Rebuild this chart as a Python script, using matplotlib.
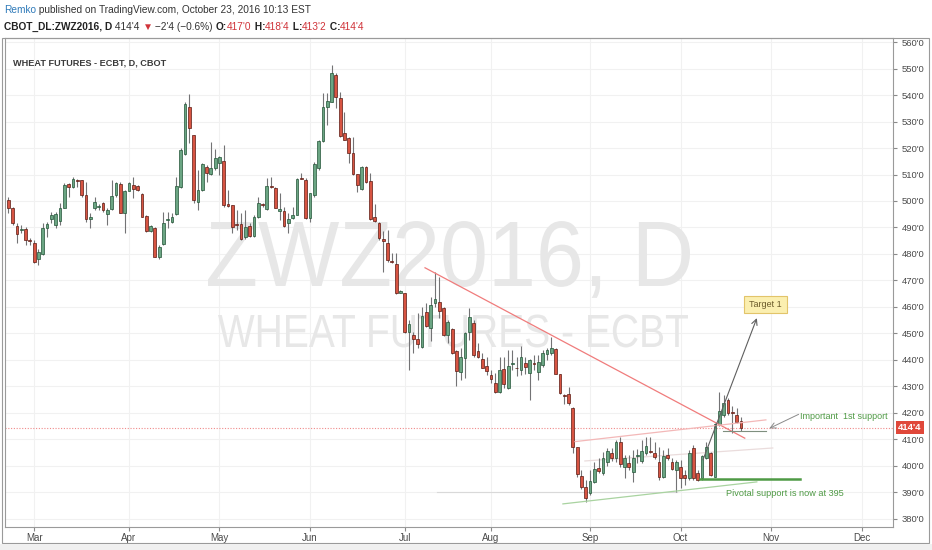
import matplotlib
matplotlib.use('Agg')
import matplotlib.pyplot as plt
import matplotlib.transforms as mtransforms
from matplotlib.textpath import TextPath
from matplotlib.patches import PathPatch, Rectangle
from matplotlib.font_manager import FontProperties
import numpy as np
import pandas as pd

# daily bars, 22 Feb 2016 .. 21 Oct 2016
opens = [500.4, 497.5, 490.7, 489.0, 489.3, 485.3, 484.0, 478.1, 479.9, 489.7,
         493.1, 490.9, 492.6, 497.5, 506.4, 505.1, 507.9, 507.9, 502.2, 493.3,
         497.2, 497.8, 499.4, 495.1, 496.8, 502.2, 506.4, 495.6, 503.9, 506.0,
         505.6, 502.5, 494.5, 488.8, 489.7, 479.0, 483.8, 492.8, 491.9, 495.1,
         505.1, 517.7, 535.3, 524.9, 499.7, 504.1, 512.9, 510.2, 512.3, 514.2,
         515.2, 498.9, 498.5, 491.5, 491.2, 486.5, 490.7, 486.9, 493.8, 498.9,
         496.8, 505.4, 505.0, 496.4, 496.2, 491.6, 493.7, 494.7, 508.5, 507.9,
         493.4, 502.2, 512.6, 522.8, 535.3, 537.5, 547.5, 538.7, 525.8, 523.6,
         518.0, 510.1, 504.5, 512.9, 507.7, 493.8, 491.8, 485.5, 484.3, 477.1,
         476.2, 465.2, 465.2, 450.7, 449.4, 447.8, 445.0, 458.2, 452.0, 461.6,
         462.0, 459.5, 449.4, 451.6, 443.5, 435.6, 440.6, 450.7, 453.8, 443.5,
         440.2, 437.7, 434.3, 431.4, 428.0, 436.7, 429.3, 438.5, 437.0, 436.2,
         438.7, 435.2, 438.9, 435.6, 438.0, 442.3, 442.5, 444.1, 434.7, 426.8,
         427.0, 421.8, 407.3, 396.3, 392.2, 389.7, 394.1, 399.4, 397.2, 401.6,
         404.8, 402.9, 409.2, 399.7, 401.0, 397.9, 403.8, 402.0, 404.8, 405.6,
         404.8, 401.6, 395.7, 404.1, 401.6, 398.5, 399.7, 396.6, 395.3, 406.7,
         397.5, 395.3, 402.9, 404.8, 396.0, 415.5, 419.2, 424.9, 420.5, 419.2,
         417.0]
highs = [501.6, 497.9, 491.6, 490.9, 490.3, 486.0, 485.3, 481.9, 491.6, 492.2,
         496.0, 496.0, 499.1, 506.7, 506.7, 509.2, 508.2, 507.9, 507.3, 495.3,
         501.6, 498.9, 499.7, 497.2, 507.9, 507.3, 507.3, 504.1, 507.3, 508.9,
         506.0, 502.9, 494.7, 490.9, 490.3, 483.4, 496.0, 496.0, 495.3, 508.9,
         519.9, 537.5, 540.2, 524.9, 511.7, 514.2, 513.6, 522.4, 519.5, 517.0,
         521.1, 504.1, 498.5, 496.6, 495.3, 496.6, 491.6, 494.7, 501.6, 499.1,
         508.5, 508.9, 505.4, 502.9, 497.9, 495.3, 497.9, 508.5, 510.4, 508.5,
         503.1, 514.8, 523.0, 540.6, 540.6, 551.3, 548.2, 541.2, 533.7, 524.3,
         524.3, 510.1, 513.2, 513.2, 510.4, 498.9, 492.2, 488.8, 489.0, 480.3,
         480.3, 466.4, 465.2, 455.1, 450.7, 457.6, 460.1, 461.4, 463.6, 473.3,
         471.4, 460.1, 455.1, 451.9, 443.8, 444.4, 450.7, 459.5, 455.1, 446.3,
         442.5, 441.3, 436.2, 435.0, 441.3, 441.3, 443.8, 443.8, 441.3, 445.3,
         441.3, 440.3, 441.9, 441.9, 443.8, 444.4, 448.8, 444.4, 434.9, 427.0,
         429.7, 422.1, 407.3, 398.5, 394.7, 398.5, 401.6, 402.9, 405.4, 406.7,
         406.7, 409.8, 411.1, 404.1, 404.0, 405.9, 406.5, 409.8, 411.1, 411.1,
         409.2, 407.3, 406.0, 406.7, 402.9, 402.3, 402.3, 398.5, 406.0, 407.9,
         398.5, 404.1, 409.2, 405.4, 416.1, 428.0, 426.8, 425.5, 422.5, 422.0,
         418.5]
lows = [495.3, 490.9, 484.0, 487.8, 483.4, 483.4, 476.7, 475.8, 479.6, 486.5,
        491.6, 489.7, 490.9, 497.2, 501.6, 504.8, 505.4, 501.6, 492.2, 489.7,
        496.6, 496.6, 496.0, 490.9, 496.6, 501.6, 495.3, 487.8, 503.9, 501.0,
        503.9, 493.8, 488.4, 488.4, 478.7, 478.3, 483.4, 489.7, 491.6, 494.7,
        504.8, 517.3, 521.8, 499.1, 496.6, 503.7, 507.3, 509.8, 511.7, 509.8,
        497.9, 497.9, 487.8, 489.0, 485.3, 485.5, 486.5, 486.5, 493.5, 497.8,
        496.6, 505.0, 497.2, 492.8, 490.3, 487.8, 493.1, 494.7, 508.2, 493.1,
        492.2, 501.6, 511.7, 522.4, 528.7, 537.5, 535.1, 524.0, 523.0, 514.2,
        509.8, 503.5, 504.1, 506.7, 492.8, 492.2, 485.3, 473.3, 477.1, 476.5,
        464.9, 465.2, 450.0, 436.2, 442.5, 444.4, 444.4, 452.5, 447.0, 460.1,
        455.7, 449.0, 446.3, 442.1, 430.2, 432.4, 433.1, 447.5, 441.3, 440.6,
        436.8, 434.3, 431.2, 427.7, 427.7, 429.3, 429.0, 436.2, 433.8, 434.5,
        434.9, 424.9, 436.2, 432.5, 437.5, 440.0, 441.9, 434.7, 427.2, 423.4,
        423.0, 405.0, 396.0, 391.5, 386.5, 389.0, 393.7, 397.2, 396.6, 400.0,
        402.0, 401.6, 399.7, 395.3, 398.5, 394.1, 401.0, 401.0, 404.1, 404.8,
        402.5, 394.7, 395.3, 402.3, 398.5, 390.3, 391.6, 392.8, 394.9, 394.7,
        394.3, 394.9, 402.5, 396.2, 395.7, 415.1, 418.6, 419.2, 412.5, 416.1,
        413.25]
closes = [497.2, 491.6, 487.5, 489.2, 485.3, 484.9, 477.1, 480.9, 489.7, 491.2,
          494.7, 495.1, 497.5, 506.0, 505.1, 508.3, 507.7, 502.2, 493.3, 493.8,
          499.7, 498.2, 496.6, 496.6, 501.9, 506.9, 495.6, 503.9, 506.7, 504.4,
          504.1, 494.1, 488.7, 490.7, 479.0, 482.8, 491.8, 493.1, 494.1, 505.6,
          519.2, 536.5, 527.4, 500.4, 504.1, 514.0, 510.4, 512.3, 516.1, 516.7,
          498.5, 498.2, 490.3, 491.0, 485.6, 490.3, 486.9, 494.1, 499.1, 498.4,
          505.8, 505.2, 497.5, 496.8, 490.7, 493.2, 494.7, 508.3, 508.3, 493.4,
          502.9, 514.0, 522.8, 535.3, 537.9, 548.2, 539.4, 524.5, 523.0, 518.0,
          510.1, 506.0, 512.9, 507.3, 493.1, 492.6, 485.9, 485.0, 477.7, 476.9,
          465.2, 466.1, 450.4, 453.6, 447.8, 446.0, 456.5, 452.8, 460.8, 462.9,
          458.6, 449.4, 454.5, 442.5, 436.0, 441.0, 450.3, 456.1, 441.9, 441.3,
          437.1, 436.0, 432.7, 428.0, 436.2, 431.0, 437.7, 439.0, 436.8, 441.3,
          437.3, 439.9, 438.5, 439.4, 442.8, 443.8, 444.4, 434.9, 427.4, 426.5,
          423.6, 407.3, 396.8, 392.2, 388.0, 394.5, 398.7, 398.2, 402.9, 405.8,
          402.9, 409.2, 400.7, 402.9, 399.6, 402.9, 404.0, 405.8, 407.6, 405.4,
          403.5, 395.7, 403.8, 402.9, 398.7, 401.6, 395.3, 395.3, 404.8, 395.3,
          394.7, 403.8, 407.0, 396.6, 415.8, 420.9, 423.6, 419.9, 420.0, 416.7,
          414.5]

holidays = ['2016-03-25', '2016-05-30', '2016-07-04', '2016-09-05', '2016-11-24']
month_names = ['Mar', 'Apr', 'May', 'Jun', 'Jul', 'Aug', 'Sep', 'Oct', 'Nov', 'Dec']
price_ticks = list(range(380, 561, 10))
last_price = 414.5

W, H = 932, 550
fig = plt.figure(figsize=(W / 100, H / 100), dpi=100)
fig.patch.set_facecolor('white')
ax = fig.add_axes([5 / W, (H - 527) / H, 888 / W, 489 / H])
ax.set_facecolor('white')

days = pd.bdate_range('2016-02-22', '2016-12-30')
days = days[~days.isin(pd.to_datetime(holidays))]
idx = np.arange(len(opens))
month_pos = []
for m in range(3, 13):
    month_pos.append(int(np.where(days.month == m)[0][0]))

o = np.array(opens); h = np.array(highs); l = np.array(lows); c = np.array(closes)
up = c >= o

# watermark, squeezed text path drawn in pixel coords
def watermark(s, x0, x1, ytop, ybase, color):
    fp = FontProperties(family='Liberation Sans')
    tp = TextPath((0, 0), s, size=100, prop=fp)
    ext = tp.get_extents()
    cap = TextPath((0, 0), 'H', size=100, prop=fp).get_extents().height
    sx = (x1 - x0) / ext.width
    sy = (ybase - ytop) / cap
    tr = mtransforms.Affine2D().translate(-ext.x0, 0).scale(sx, sy).translate(x0, H - ybase)
    ax.add_patch(PathPatch(tp, transform=tr, facecolor=color, edgecolor='none', zorder=0.5))

watermark('ZWZ2016, D', 208, 690, 222, 286, '#e7e7e7')
watermark('WHEAT FUTURES - ECBT', 218, 688, 315, 347, '#e7e7e7')

# grid
for p in price_ticks:
    ax.axhline(p, color='#f1f1f1', lw=0.8, zorder=0.2)
for mp in month_pos:
    ax.axvline(mp, color='#f1f1f1', lw=0.8, zorder=0.2)

# last price line
ax.axhline(last_price, color='#f08a8a', lw=0.8, ls=(0, (1, 1.5)), zorder=1)

# candles
ax.vlines(idx, l, h, color='#737375', lw=0.8, zorder=2)
body_lo = np.minimum(o, c)
body_h = np.maximum(np.abs(c - o), 0.35)
ax.bar(idx[up], body_h[up], bottom=body_lo[up], width=0.64, color='#6ba583',
       edgecolor='#225437', linewidth=0.5, zorder=3)
ax.bar(idx[~up], body_h[~up], bottom=body_lo[~up], width=0.64, color='#d75442',
       edgecolor='#5b1a13', linewidth=0.5, zorder=3)

# drawings
ax.plot([96.7, 170.9], [474.8, 410.5], color='#f07c7c', lw=0.9, zorder=4)
ax.plot([131.5, 175.8], [409.2, 417.4], color='#f3b8b8', lw=0.9, zorder=4)
ax.plot([133.8, 177.4], [401.9, 406.8], color='#eadcdc', lw=0.9, zorder=1.5)
ax.plot([128.7, 173.7], [385.7, 394.0], color='#a9d3a0', lw=0.9, zorder=4)
ax.plot([99.5, 155.1], [390.2, 390.2], color='#d9d9d9', lw=0.8, zorder=1.5)
ax.plot([160.5, 183.7], [395.0, 395.0], color='#4f9a45', lw=1.8, zorder=4)
ax.plot([165.8, 175.8], [413.2, 413.2], color='#7f8f7f', lw=0.8, zorder=4)
ax.annotate('', xy=(173.7, 455.8), xytext=(161.2, 402.3),
            arrowprops=dict(arrowstyle='->', color='#5f5f5f', lw=0.8, shrinkA=0, shrinkB=0), zorder=5)
ax.annotate('', xy=(176.6, 414.2), xytext=(183.4, 419.5),
            arrowprops=dict(arrowstyle='->', color='#8a8a8a', lw=0.7, shrinkA=0, shrinkB=0), zorder=5)
ax.add_patch(Rectangle((170.7, 457.7), 10.0, 6.5, facecolor='#fbefb0', edgecolor='#e2c46a', lw=0.8, zorder=5))
ax.text(175.7, 461.0, 'Target 1', fontsize=6.5, color='#6b5a2a', ha='center', va='center',
        family='Liberation Sans', zorder=6)
ax.text(183.8, 418.6, 'Important  1st support', fontsize=6.5, color='#4f9a45', ha='left', va='center',
        family='Liberation Sans', zorder=6)
ax.text(180.2, 389.7, 'Pivotal support is now at 395', fontsize=6.6, color='#4f9a45', ha='center',
        va='center', family='Liberation Sans', zorder=6)

ax.text(1.0, 552.0, 'WHEAT FUTURES - ECBT, D, CBOT', fontsize=6.6, color='#3a3a3a', fontweight='bold',
        family='Liberation Sans', ha='left', va='center', zorder=6)

# axes
ax.set_xlim(-0.77, 205.3)
ax.set_ylim(376.98, 561.51)
ax.yaxis.tick_right()
ax.set_yticks(price_ticks)
ax.set_yticklabels([f"{p}'0" for p in price_ticks])
ax.set_xticks(month_pos)
ax.set_xticklabels(month_names)
ax.tick_params(axis='y', length=3, pad=3, labelsize=6.8, colors='#8a8a8a', labelcolor='#4a4a4a')
ax.tick_params(axis='x', length=3, pad=1.5, labelsize=7, colors='#8a8a8a', labelcolor='#4a4a4a')
for lab in ax.get_xticklabels() + ax.get_yticklabels():
    lab.set_family('Liberation Sans')
for sp in ax.spines.values():
    sp.set_color('#9a9a9a')
    sp.set_linewidth(0.8)

# last price tag
ax.text(1.006, (last_price - 376.98) / (561.51 - 376.98), "414'4", transform=ax.transAxes,
        fontsize=6.8, color='white', fontweight='bold', family='Liberation Sans', ha='left', va='center',
        bbox=dict(boxstyle='square,pad=0.25', facecolor='#e0483a', edgecolor='none'), zorder=10,
        clip_on=False)

# outer frame
fig.patches.append(Rectangle((2 / W, (H - 543) / H), 927 / W, 505 / H, transform=fig.transFigure,
                             fill=False, edgecolor='#9a9a9a', lw=0.8))
fig.patches.append(Rectangle((0, 0), 1, (H - 544) / H, transform=fig.transFigure,
                             facecolor='#f0f0f0', edgecolor='none'))

# header rows
def put_row(pieces, x, y, size):
    r = fig.canvas.get_renderer()
    for s, col, wt in pieces:
        t = fig.text(x / W, 1 - y / H, s, color=col, fontweight=wt, fontsize=size, va='center',
                     ha='left', family=['Liberation Sans', 'DejaVu Sans'])
        x += t.get_window_extent(r).width

red = '#d0343a'
put_row([('Remko', '#2f7ab9', 'normal'),
         (' published on TradingView.com, October 23, 2016 10:13 EST', '#333333', 'normal')], 4, 10, 7.3)
put_row([('CBOT_DL:ZWZ2016, D', '#222222', 'bold'), (" 414'4 ", '#333333', 'normal'),
         ('▼', red, 'normal'), (" \u22122'4 (\u22120.6%) ", '#333333', 'normal'),
         ('O:', '#222222', 'bold'), ("417'0", red, 'normal'), (' H:', '#222222', 'bold'),
         ("418'4", red, 'normal'), (' L:', '#222222', 'bold'), ("413'2", red, 'normal'),
         (' C:', '#222222', 'bold'), ("414'4", red, 'normal')], 4, 27, 7.3)

fig.savefig('out.png', dpi=100)
